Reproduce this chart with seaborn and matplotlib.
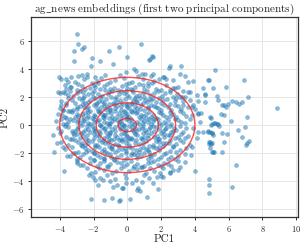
import numpy as np
import pandas as pd
import seaborn as sns
import matplotlib
matplotlib.use("Agg")
import matplotlib.pyplot as plt
from matplotlib.patches import Ellipse

# ---------------- data ----------------
# sparse / outlying points
out_pc1 = [
    -3.0, -2.9, -3.14, -2.66, -2.56, -3.14, -1.07, -0.47, -2.1, -1.62,
    -2.15, -0.86, -4.04, -3.92, -3.63, -3.33, -2.68, -2.37, -2.56, -1.91,
    0.81, 0.0, 1.48, 1.34, 2.53, 2.47, 3.16, -0.08, 0.5, 0.4,
    0.85, 1.05, 1.38, 1.54, 2.13, 2.27, 2.69, 3.12, 3.4, 3.61,
    3.87, 4.79, 4.46, 4.6, 4.1, 4.2, 3.57, 3.41, 3.22, 3.02,
    2.72, 2.53, 3.31, 3.81, 4.34, 4.18, 4.89, 3.71, 5.19, 4.83,
    6.89, 5.09, 5.82, 4.6, 5.33, 5.35, 7.12, 4.6, 5.59, 5.74,
    5.94, 5.82, 6.21, 6.41, 6.63, 6.77, 5.54, 5.72, 8.84, 7.07,
    4.95, 6.14, 5.19, 5.35, 4.99, 5.15, 5.29, 5.43, 4.76, 4.89,
    5.03, 5.09, 5.59, 5.88, 6.53, 6.96, 6.77, 4.89, 4.99, 4.83,
    5.72, 7.2, 7.08, 7.0, 4.89, 4.99, 5.11, 5.59, 6.43, 4.83,
    4.85, 4.83, 6.18, 4.93, 4.2, 4.5, 4.79, 5.01, 4.1, 4.85,
    4.93, 3.81, 3.75, 5.05, 3.41, 3.12, 3.02, 4.0, 0.26, 0.56,
    0.65, 0.75, 1.15, 1.83, 0.16, -0.27, -0.08, -0.43, 0.85, 1.54,
    1.3, 2.13, 2.53, 2.72, 1.93, 1.74, -4.37, -4.18, -4.34, -3.79,
    -3.75, -3.59, -3.23, -3.0, -2.8, -1.91, -1.75, -2.17, -1.36, -0.89,
    -0.49, -2.15, -2.25, -2.01, -1.62, -1.42, -1.02, -0.83, -0.59, -0.33,
    -4.08, -3.98, -3.79, -3.49, -3.33, -3.69, -3.94, -3.79, -3.85, -3.63,
    -3.49, 1.28, 1.52,
]
out_pc2 = [
    6.5, 5.79, 5.26, 5.45, 5.6, 4.55, 5.31, 5.57, 4.79, 4.6,
    4.21, 4.33, 3.45, 3.29, 3.29, 3.45, 3.57, 3.66, 3.31, 3.45,
    5.79, 4.88, 4.95, 4.69, 4.24, 4.1, 4.24, 3.81, 3.88, 4.0,
    3.62, 3.62, 3.5, 3.66, 3.43, 3.29, 3.21, 3.64, 3.5, 3.09,
    3.16, 3.19, 2.62, 2.19, 2.14, 1.74, 2.38, 2.02, 2.02, 2.74,
    2.62, 2.5, 1.43, 1.31, 0.88, 0.84, 0.57, 2.38, 3.93, 3.21,
    3.21, 2.67, 2.74, 2.14, 2.1, 1.79, 2.02, 1.67, 1.43, 1.43,
    1.52, 1.31, 1.74, 1.62, 1.52, 1.64, 0.81, 0.74, 1.24, 0.57,
    0.52, 0.29, 0.12, 0.07, 0.07, 0.17, 0.07, -0.07, -0.43, -0.48,
    -0.6, -0.71, -0.55, -0.67, -0.36, -0.17, -0.83, -1.19, -1.26, -1.36,
    -1.19, -1.14, -1.31, -1.45, -1.67, -1.9, -1.9, -1.9, -2.86, -3.88,
    -4.29, -4.84, -4.4, 0.02, -0.48, -0.48, -0.48, -0.55, -0.95, -1.19,
    -1.36, -1.55, -2.14, -1.9, -2.62, -2.98, -3.21, -3.26, -4.17, -4.64,
    -4.52, -4.69, -5.12, -4.59, -5.31, -4.52, -4.17, -5.36, -4.05, -4.12,
    -3.81, -3.74, -3.45, -3.21, -3.45, -3.69, -0.71, -1.31, -1.9, -1.55,
    -3.29, -2.21, -2.02, -2.69, -2.86, -3.93, -4.29, -5.29, -5.36, -5.24,
    -5.41, -3.45, -3.57, -3.69, -3.81, -3.93, -4.0, -4.41, -4.29, -4.52,
    2.38, 2.26, 2.33, 2.14, 2.74, 2.86, 1.43, 1.07, 0.71, 0.48,
    0.24, 4.64, 4.88,
]

# dense core points
core_pc1 = [
    -3.1, -2.4, -1.8, -1.3, -0.7, -0.2, 0.3, 0.9, 1.6, 2.2,
    -2.9, -2.1, -1.55, -1.0, -0.45, 0.1, 0.65, 1.25, 1.9, -3.5,
    -3.4, -2.9, -2.5, -2.0, -1.6, -1.2, -0.8, -0.3, 0.2, 0.7,
    1.2, 1.7, 2.3, 2.8, -3.0, -2.2, -1.4, -0.55, 0.45, 1.45,
    -2.7, -1.9, -1.0, -0.1, 0.95, 2.0, -3.6, -1.75, 0.0, 1.0,
    -3.7, -3.2, -2.8, -2.35, -1.95, -1.5, -1.1, -0.65, -0.2, 0.25,
    0.7, 1.15, 1.6, 2.05, 2.5, 2.95, 3.3, -3.4, -2.55, -1.75,
    -0.9, 0.0, 0.9, 1.8, 2.7, -3.0, -2.1, -1.3, -0.4, 0.5,
    1.35, 2.25, 3.1, -2.65, -1.6, -0.5, 0.35, 1.0, -1.15, -0.05,
    -3.9, -3.5, -3.1, -2.7, -2.3, -1.9, -1.5, -1.1, -0.7, -0.3,
    0.1, 0.5, 0.9, 1.3, 1.7, 2.1, 2.5, 2.9, 3.3, 3.7,
    -3.3, -2.5, -2.05, -1.7, -1.25, -0.85, -0.45, 0.0, 0.35, 0.75,
    1.15, 1.55, 2.0, 2.35, 2.8, -2.85, -1.4, -0.15, 0.6, 1.4,
    -2.2, -0.95, 0.25, 1.05, 1.85, -3.65, -0.6, 0.45, -1.8, -2.6,
    -4.0, -3.6, -3.2, -2.8, -2.4, -2.0, -1.6, -1.2, -0.8, -0.4,
    0.0, 0.4, 0.8, 1.2, 1.6, 2.0, 2.4, 2.8, 3.2, 3.6,
    -3.4, -3.0, -2.6, -2.2, -1.8, -1.4, -1.0, -0.6, -0.2, 0.2,
    0.6, 1.0, 1.4, 1.8, 2.2, 2.6, 3.0, -2.95, -1.55, -0.35,
    0.75, 1.7, -2.3, -1.05, 0.1, -3.8, -0.7, 0.45, -1.85, -2.55,
    4.0, 3.9, 1.25, -0.05, -1.3,
    -4.1, -3.7, -3.3, -2.9, -2.5, -2.1, -1.7, -1.3, -0.9, -0.5,
    -0.1, 0.3, 0.7, 1.1, 1.5, 1.9, 2.3, 2.7, 3.1, 3.5,
    -3.5, -3.1, -2.7, -2.3, -1.9, -1.5, -1.1, -0.7, -0.3, 0.1,
    0.5, 0.9, 1.3, 1.7, 2.1, 2.5, 2.9, 3.3, 3.8, -2.6,
    -2.0, -1.45, -0.95, -0.35, 0.2, 0.8, 1.4, 2.0, -3.0, -1.75,
    -1.15, -0.6, 0.0, 0.6, -2.35, 1.1, -1.35, -0.15, 4.2, 2.55,
    -4.2, -3.8, -3.4, -3.0, -2.6, -2.2, -1.8, -1.4, -1.0, -0.6,
    -0.2, 0.2, 0.6, 1.0, 1.4, 1.8, 2.2, 2.6, 3.0, 3.4,
    -3.6, -3.2, -2.8, -2.4, -2.0, -1.6, -1.2, -0.8, -0.4, 0.0,
    0.4, 0.8, 1.2, 1.6, 2.0, 2.4, 2.8, 3.2, 3.7, -2.9,
    -2.3, -1.7, -1.1, -0.5, 0.1, 0.7, 1.3, 1.9, -1.95, -0.9,
    0.3, -1.35, -2.55, 1.55, -0.05, -3.9, 2.3, 0.95, -0.3, 4.3,
    -4.1, -3.7, -3.3, -2.9, -2.5, -2.1, -1.7, -1.3, -0.9, -0.5,
    -0.1, 0.3, 0.7, 1.1, 1.5, 1.9, 2.3, 2.7, 3.1, 3.5,
    -3.5, -3.1, -2.7, -2.3, -1.9, -1.5, -1.1, -0.7, -0.3, 0.1,
    0.5, 0.9, 1.3, 1.7, 2.1, 2.5, 2.9, 3.3, 3.9, -2.6,
    -1.95, -1.35, -0.75, -0.15, 0.45, 1.05, 1.6, 2.25, -3.0, -1.6,
    -1.05, -0.45, 0.25, 0.85, -2.4, 1.35, -2.0, -0.2, 2.75, -3.9,
    -4.0, -3.6, -3.2, -2.8, -2.4, -2.0, -1.6, -1.2, -0.8, -0.4,
    0.0, 0.4, 0.8, 1.2, 1.6, 2.0, 2.4, 2.8, 3.2, 3.6,
    -3.4, -3.0, -2.6, -2.2, -1.8, -1.4, -1.0, -0.6, -0.2, 0.2,
    0.6, 1.0, 1.4, 1.8, 2.2, 2.6, 3.0, 3.4, -2.45, -1.25,
    -0.05, 1.25, -1.65, -0.7, 0.45, 2.2, -3.15, 0.95, -2.0, -0.35,
    1.75, -1.1, 2.55, -2.75, 0.1,
    -3.9, -3.5, -3.1, -2.7, -2.3, -1.9, -1.5, -1.1, -0.7, -0.3,
    0.1, 0.5, 0.9, 1.3, 1.7, 2.1, 2.5, 2.9, 3.3, 3.7,
    -3.3, -2.9, -2.5, -2.1, -1.7, -1.3, -0.9, -0.5, -0.1, 0.3,
    0.7, 1.1, 1.5, 1.9, 2.3, 2.7, 3.1, -2.35, -1.15, 0.05,
    -1.8, -0.55, 0.85, 1.85, -2.75, -0.95, 0.45, 2.45, -1.45, -0.2,
    -3.7, -3.3, -2.9, -2.5, -2.1, -1.7, -1.3, -0.9, -0.5, -0.1,
    0.3, 0.7, 1.1, 1.5, 1.9, 2.3, 2.7, 3.1, 3.5, -3.1,
    -2.7, -2.3, -1.9, -1.5, -1.1, -0.7, -0.3, 0.1, 0.5, 0.9,
    1.3, 1.7, 2.1, 2.5, 2.9, -2.0, -0.95, 0.25, 1.2, -1.35,
    -0.15, 0.75, -2.45, 1.9, -0.55,
    -3.4, -3.0, -2.6, -2.2, -1.8, -1.4, -1.0, -0.6, -0.2, 0.2,
    0.6, 1.0, 1.4, 1.8, 2.2, 2.6, 3.0, 3.4, -2.8, -2.0,
    -1.6, -1.2, -0.8, -0.4, 0.0, 0.4, 0.8, 1.2, 1.6, 2.0,
    2.4, -0.95, 0.6, -1.95, 1.35, -0.1, 2.85, -1.4,
    -3.0, -2.6, -2.2, -1.8, -1.4, -1.0, -0.6, -0.2, 0.2, 0.6,
    1.0, 1.4, 1.8, 2.2, 2.6, 3.0, -1.6, -0.8, 0.0, 0.8,
    1.6, 2.4, -2.0, -1.2, -0.4, 0.4, 1.2, 2.0,
    -2.4, -1.9, -1.4, -0.9, -0.4, 0.1, 0.6, 1.1, 1.6, 2.1,
    -1.15, -0.15, 0.85, 2.5, -0.65, 0.35, 1.35, -1.65,
    -1.2, -0.1, 0.5, 1.0, 2.0, -0.7,
]
core_pc2 = [
    3.05, 3.4, 3.12, 3.55, 3.2, 3.38, 3.08, 3.3, 3.15, 3.45,
    3.5, 3.0, 3.35, 3.1, 3.6, 3.02, 3.48, 3.0, 3.25, 3.1,
    2.7, 2.95, 2.55, 2.85, 2.6, 2.9, 2.65, 2.8, 2.58, 2.92,
    2.75, 2.55, 2.85, 2.65, 2.52, 2.62, 2.78, 2.5, 2.7, 2.98,
    2.82, 2.72, 2.55, 2.96, 2.88, 2.5, 2.6, 2.98, 2.66, 2.6,
    2.3, 2.05, 2.45, 2.2, 2.4, 2.1, 2.35, 2.02, 2.28, 2.48,
    2.15, 2.42, 2.25, 2.05, 2.38, 2.2, 2.45, 2.4, 2.08, 2.18,
    2.4, 2.12, 2.3, 2.46, 2.02, 2.25, 2.32, 2.48, 2.4, 2.05,
    2.12, 2.3, 2.02, 2.33, 2.02, 2.2, 2.35, 2.0, 2.22, 2.45,
    1.7, 1.95, 1.55, 1.8, 1.62, 1.9, 1.72, 1.52, 1.85, 1.6,
    1.98, 1.7, 1.55, 1.88, 1.65, 1.78, 1.52, 1.92, 1.68, 1.82,
    1.82, 1.58, 1.98, 1.68, 1.88, 1.6, 1.75, 1.5, 1.8, 1.92,
    1.62, 1.96, 1.54, 1.86, 1.72, 1.96, 1.56, 1.84, 1.64, 1.75,
    1.76, 1.98, 1.6, 1.8, 1.9, 1.6, 1.66, 1.94, 1.54, 1.9,
    1.2, 1.45, 1.05, 1.35, 1.15, 1.4, 1.02, 1.28, 1.48, 1.1,
    1.32, 1.08, 1.42, 1.18, 1.38, 1.04, 1.26, 1.46, 1.12, 1.3,
    1.0, 1.25, 1.48, 1.02, 1.22, 1.44, 1.14, 1.34, 1.02, 1.48,
    1.24, 1.04, 1.46, 1.2, 1.4, 1.1, 1.36, 1.12, 1.3, 1.38,
    1.16, 1.3, 1.32, 1.06, 1.18, 1.08, 1.22, 1.36, 1.48, 1.26,
    1.15, 1.42, 1.3, 1.44, 1.16,
    0.75, 0.55, 0.95, 0.65, 0.85, 0.52, 0.92, 0.7, 0.58, 0.88,
    0.62, 0.9, 0.55, 0.8, 0.68, 0.95, 0.6, 0.78, 0.98, 0.66,
    0.98, 0.6, 0.8, 0.96, 0.66, 0.82, 0.5, 0.98, 0.74, 0.56,
    0.84, 0.62, 0.96, 0.52, 0.74, 0.94, 0.54, 0.86, 0.7, 0.55,
    0.72, 0.6, 0.84, 0.52, 0.98, 0.72, 0.58, 0.88, 0.8, 0.98,
    0.92, 0.66, 0.8, 0.94, 0.62, 0.5, 0.7, 0.95, 0.8, 0.62,
    0.3, 0.1, 0.45, 0.2, 0.38, 0.05, 0.28, 0.48, 0.15, 0.35,
    0.02, 0.42, 0.18, 0.32, 0.08, 0.44, 0.22, 0.06, 0.36, 0.14,
    0.05, 0.34, 0.12, 0.48, 0.24, 0.02, 0.16, 0.42, 0.26, 0.48,
    0.1, 0.46, 0.22, 0.4, 0.02, 0.34, 0.46, 0.24, 0.4, 0.38,
    0.12, 0.36, 0.04, 0.2, 0.28, 0.04, 0.46, 0.16, 0.46, 0.3,
    0.16, 0.22, 0.26, 0.28, 0.4, 0.42, 0.1, 0.14, 0.08, 0.2,
    -0.25, -0.05, -0.4, -0.15, -0.35, -0.08, -0.45, -0.2, -0.3, -0.02,
    -0.38, -0.12, -0.28, -0.48, -0.05, -0.32, -0.18, -0.42, -0.1, -0.25,
    -0.12, -0.46, -0.02, -0.26, -0.44, -0.16, -0.04, -0.4, -0.22, -0.06,
    -0.44, -0.08, -0.3, -0.14, -0.46, -0.06, -0.34, -0.48, -0.2, -0.48,
    -0.18, -0.3, -0.14, -0.46, -0.2, -0.36, -0.42, -0.3, -0.32, -0.02,
    -0.48, -0.26, -0.34, -0.2, -0.04, -0.12, -0.36, -0.1, -0.2, -0.46,
    -0.6, -0.85, -0.55, -0.95, -0.7, -0.9, -0.58, -0.78, -0.98, -0.65,
    -0.82, -0.52, -0.96, -0.68, -0.88, -0.56, -0.74, -0.94, -0.62, -0.8,
    -0.98, -0.66, -0.8, -0.52, -0.74, -0.96, -0.6, -0.86, -0.54, -0.92,
    -0.7, -0.84, -0.54, -0.98, -0.66, -0.52, -0.84, -0.96, -0.98, -0.52,
    -0.68, -0.92, -0.82, -0.72, -0.62, -0.88, -0.74, -0.56, -0.62, -0.98,
    -0.78, -0.7, -0.7, -0.58, -0.96,
    -1.2, -1.45, -1.05, -1.3, -1.1, -1.4, -1.22, -1.02, -1.35, -1.15,
    -1.42, -1.08, -1.28, -1.48, -1.12, -1.32, -1.04, -1.38, -1.18, -1.46,
    -1.0, -1.24, -1.46, -1.16, -1.04, -1.3, -1.48, -1.1, -1.26, -1.02,
    -1.36, -1.14, -1.44, -1.0, -1.26, -1.48, -1.06, -1.3, -1.2, -1.1,
    -1.46, -1.4, -1.02, -1.2, -1.42, -1.08, -1.3, -1.3, -1.1, -1.0,
    -1.7, -1.55, -1.9, -1.65, -1.85, -1.58, -1.95, -1.72, -1.52, -1.88,
    -1.62, -1.92, -1.68, -1.55, -1.8, -1.98, -1.6, -1.76, -1.64, -1.98,
    -1.52, -1.76, -1.6, -1.84, -1.5, -1.96, -1.74, -1.56, -1.82, -1.54,
    -1.9, -1.66, -1.52, -1.86, -1.96, -1.98, -1.62, -1.98, -1.76, -1.7,
    -1.62, -1.74, -1.96, -1.54, -1.8,
    -2.2, -2.45, -2.05, -2.35, -2.15, -2.42, -2.08, -2.3, -2.48, -2.12,
    -2.38, -2.02, -2.26, -2.46, -2.1, -2.32, -2.18, -2.04, -2.3, -2.02,
    -2.28, -2.0, -2.44, -2.16, -2.34, -2.04, -2.2, -2.4, -2.06, -2.28,
    -2.46, -2.26, -2.14, -2.48, -2.14, -2.02, -2.42, -2.36,
    -2.6, -2.85, -2.7, -2.95, -2.55, -2.8, -2.65, -2.9, -2.58, -2.76,
    -2.92, -2.62, -2.84, -2.68, -2.9, -2.56, -2.74, -2.52, -2.78, -2.98,
    -2.54, -2.8, -2.52, -2.96, -2.72, -2.9, -2.7, -2.96,
    -3.1, -3.35, -3.2, -3.42, -3.05, -3.3, -3.15, -3.45, -3.25, -3.08,
    -3.02, -3.48, -3.02, -3.38, -3.28, -3.04, -3.1, -3.04,
    -3.6, -3.75, -3.9, -3.55, -3.62, -3.85,
]

# contour ellipses (semi-axes along PC1 and PC2), centred at the origin
ell_a = [0.54, 1.84, 2.86, 4.0]
ell_b = [0.48, 1.58, 2.45, 3.4]

title = r"$\mathrm{ag\_news\ embeddings\ (first\ two\ principal\ components)}$"
xlabel = "PC1"
ylabel = "PC2"
xticks = [-4, -2, 0, 2, 4, 6, 8, 10]
yticks = [-6, -4, -2, 0, 2, 4, 6]

# ---------------- plotting ----------------
sns.set_theme(style="whitegrid")
plt.rcParams["font.family"] = ["cmr10", "DejaVu Serif"]
plt.rcParams["mathtext.fontset"] = "cm"
plt.rcParams["axes.formatter.use_mathtext"] = True

df = pd.DataFrame({"PC1": out_pc1 + core_pc1, "PC2": out_pc2 + core_pc2})

fig = plt.figure(figsize=(3.06, 2.46), dpi=100)
ax = fig.add_axes([0.1013, 0.1167, 0.8735, 0.813])

sns.scatterplot(data=df, x="PC1", y="PC2", ax=ax, s=8, alpha=0.5,
                color="#1f77b4", edgecolor="#1f77b4", linewidth=0.4)

for a, b in zip(ell_a, ell_b):
    ax.add_patch(Ellipse((0, 0), 2 * a, 2 * b, fill=False,
                         edgecolor="#ff2020", alpha=0.8, linewidth=1.0))

ax.set_xlim(-5.7, 10.12)
ax.set_ylim(-6.59, 7.69)
ax.set_xticks(xticks)
ax.set_yticks(yticks)
ax.grid(True, color="#e6e6e6", linewidth=0.7)
for sp in ax.spines.values():
    sp.set_color("#333333")
    sp.set_linewidth(0.9)
ax.tick_params(axis="both", which="major", labelsize=6, length=2.5, width=0.7,
               color="#333333", pad=2, bottom=True, left=True)
ax.set_xlabel(xlabel, fontsize=8, labelpad=1)
ax.set_ylabel(ylabel, fontsize=8, labelpad=2)
ax.set_title(title, fontsize=8, pad=4)

fig.savefig("out.png", dpi=100)
